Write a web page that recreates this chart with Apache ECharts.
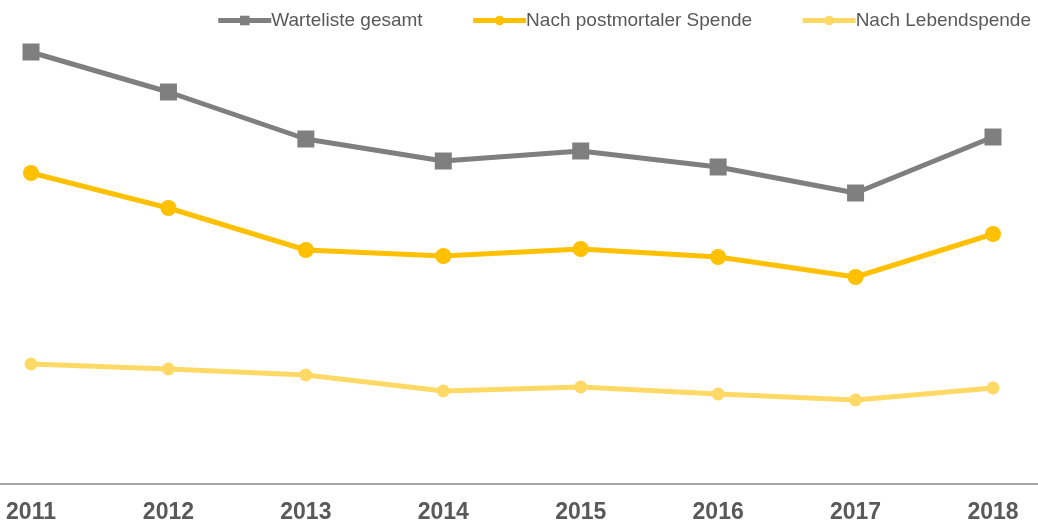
<!DOCTYPE html>
<html>
<head>
<meta charset="utf-8">
<script src="https://cdn.jsdelivr.net/npm/echarts@6/dist/echarts.min.js"></script>
<style>
  html, body { margin: 0; padding: 0; background: #fff; }
  #chart { width: 1038px; height: 526px; }
</style>
</head>
<body>
<div id="chart"></div>
<script>
const years = [2011, 2012, 2013, 2014, 2015, 2016, 2017, 2018];
const wartelisteGesamt = [432, 392, 345, 323, 333, 317, 291, 347];
const postmortal = [311, 276, 234, 228, 235, 227, 207, 250];
const lebendspende = [120, 115, 109, 93, 97, 90, 84, 96];

const toPairs = vals => vals.map((v, i) => [years[i], v]);

const myChart = echarts.init(document.getElementById('chart'));
const option = {
  animation: false,
  textStyle: { fontFamily: 'Liberation Sans, Arial, sans-serif' },
  legend: {
    top: 6,
    right: 2,
    itemWidth: 53,
    itemHeight: 12,
    itemGap: 48,
    lineStyle: { width: 5 },
    textStyle: { fontSize: 19, color: '#595959', padding: [0, 0, 0, -5] },
    data: ['Warteliste gesamt', 'Nach postmortaler Spende', 'Nach Lebendspende'],
  },
  grid: { left: 0, right: 0, top: 34, bottom: 42 },
  xAxis: {
    type: 'value',
    min: 2011 - 31 / 137.4,
    max: 2018 + 45 / 137.4,
    splitLine: { show: false },
    axisTick: { show: false },
    axisLine: { show: true, lineStyle: { color: '#a6a6a6', width: 2 } },
    axisLabel: {
      customValues: years,
      formatter: v => String(v),
      fontSize: 23,
      fontWeight: 'bold',
      color: '#595959',
      margin: 17,
    },
  },
  yAxis: {
    type: 'value',
    min: 0,
    max: 450,
    show: false,
    splitLine: { show: false },
  },
  series: [
    {
      name: 'Warteliste gesamt',
      type: 'line',
      data: toPairs(wartelisteGesamt),
      symbol: 'rect',
      symbolSize: 17,
      lineStyle: { color: '#7f7f7f', width: 5 },
      itemStyle: { color: '#7f7f7f' },
    },
    {
      name: 'Nach postmortaler Spende',
      type: 'line',
      data: toPairs(postmortal),
      symbol: 'circle',
      symbolSize: 16,
      lineStyle: { color: '#ffc000', width: 5 },
      itemStyle: { color: '#ffc000' },
    },
    {
      name: 'Nach Lebendspende',
      type: 'line',
      data: toPairs(lebendspende),
      symbol: 'circle',
      symbolSize: 13,
      lineStyle: { color: '#ffd966', width: 5 },
      itemStyle: { color: '#ffd966' },
    },
  ],
};
myChart.setOption(option);
window.addEventListener('resize', myChart.resize);
</script>
</body>
</html>
